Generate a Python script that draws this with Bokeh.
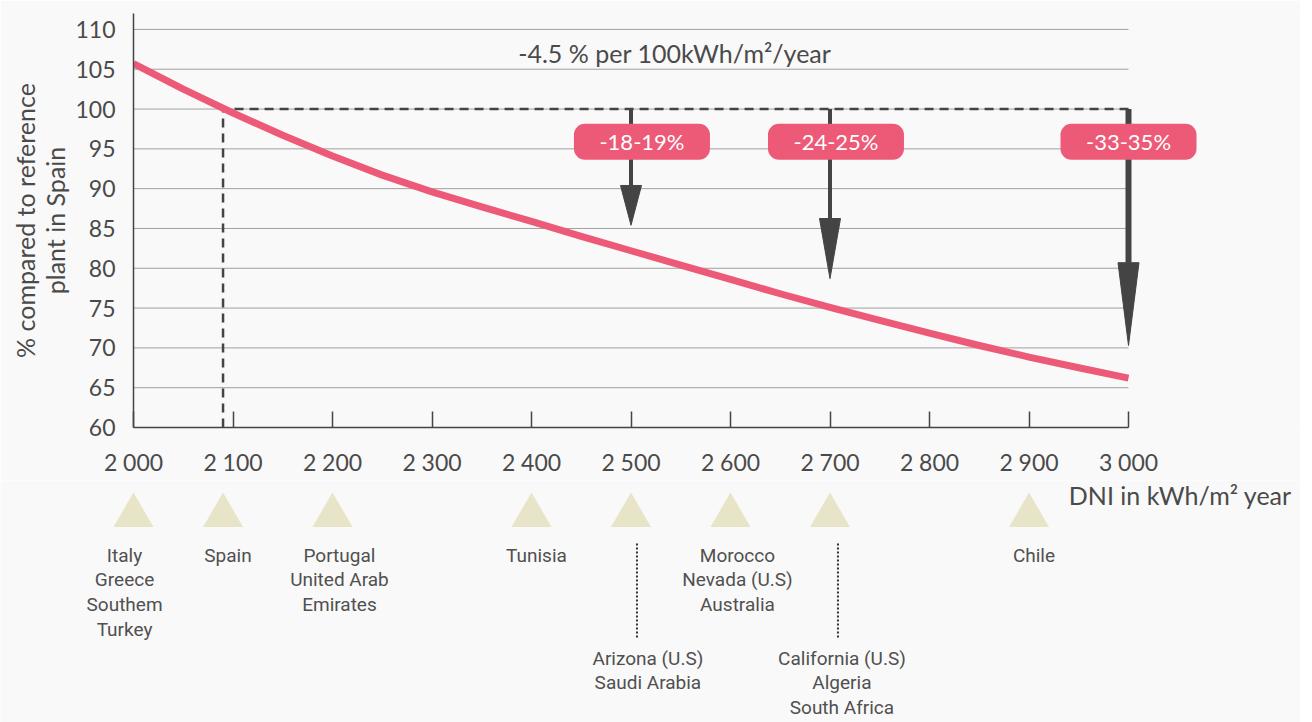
from bokeh.plotting import figure
from bokeh.models import Range1d, FixedTicker, ColumnDataSource
from bokeh.layouts import column
from bokeh.embed import file_html
from bokeh.resources import INLINE
from bokeh.core.properties import value

# ---------------- data ----------------
dni = [2000, 2050, 2100, 2150, 2200, 2250, 2300, 2350, 2400, 2450, 2500,
       2550, 2600, 2650, 2700, 2750, 2800, 2850, 2900, 2950, 3000]
pct = [105.7, 102.5, 99.5, 96.7, 94.1, 91.7, 89.6, 87.7, 85.9, 84.0, 82.2,
       80.4, 78.6, 76.8, 75.1, 73.45, 71.85, 70.3, 68.85, 67.5, 66.2]

x_ticks = [2000, 2100, 2200, 2300, 2400, 2500, 2600, 2700, 2800, 2900, 3000]
x_tick_labels = ["2 000", "2 100", "2 200", "2 300", "2 400", "2 500",
                 "2 600", "2 700", "2 800", "2 900", "3 000"]
y_ticks = [60, 65, 70, 75, 80, 85, 90, 95, 100, 105, 110]

spain_dni = 2090
ref_pct = 100

arrow_dni = [2500, 2700, 3000]
arrow_head_base = [90.4, 86.25, 80.7]
arrow_tip = [85.4, 78.7, 70.3]
arrow_labels = ["-18-19%", "-24-25%", "-33-35%"]

title_text = "-4.5 % per 100kWh/m\u00b2/year"
x_label = "DNI in kWh/m\u00b2 year"
y_label = "% compared to reference\nplant in Spain"

country_dni = [2000, 2090, 2200, 2400, 2500, 2600, 2700, 2900]
country_labels = ["Italy\nGreece\nSouthem\nTurkey", "Spain",
                  "Portugal\nUnited Arab\nEmirates", "Tunisia",
                  "Arizona (U.S)\nSaudi Arabia",
                  "Morocco\nNevada (U.S)\nAustralia",
                  "California (U.S)\nAlgeria\nSouth Africa", "Chile"]

# ---------------- styles / layout ----------------
PINK = "#EC5A78"
DARK = "#444444"
TEXT = "#4a4a4a"
BG = "#f9f9f9"
TRI = "#E8E4C8"
FONT = "Lato"
COND = "Roboto"

W = 1300
LEFT = 133
px_per_unit = 0.995
X_END = 2000 + (W - LEFT) / px_per_unit
x_range = Range1d(2000, X_END)

# ---------------- main chart ----------------
p = figure(width=W, height=480, x_range=x_range, y_range=Range1d(60, 112),
           output_backend="svg", toolbar_location=None,
           min_border_left=LEFT, min_border_right=0, min_border_top=13,
           min_border_bottom=53)
p.frame_align = False
p.background_fill_color = BG
p.border_fill_color = BG
p.outline_line_color = None
p.xgrid.visible = False
p.ygrid.visible = False

# grid lines limited to the data range
p.segment(x0=[x_ticks[0]] * (len(y_ticks) - 1), x1=[x_ticks[-1]] * (len(y_ticks) - 1),
          y0=y_ticks[1:], y1=y_ticks[1:], line_color="#a0a0a0", line_width=1)

# axes
xa = p.xaxis[0]
xa.ticker = FixedTicker(ticks=x_ticks)
xa.major_label_overrides = {t: l for t, l in zip(x_ticks, x_tick_labels)}
xa.bounds = (x_ticks[0], x_ticks[-1])
xa.major_tick_in = 16
xa.major_tick_out = 0
xa.minor_tick_line_color = None
xa.major_tick_line_color = DARK
xa.major_tick_line_width = 1.5
xa.axis_line_color = DARK
xa.axis_line_width = 1.5
xa.major_label_standoff = 20
xa.major_label_text_font = FONT
xa.major_label_text_font_size = "23px"
xa.major_label_text_color = TEXT

ya = p.yaxis[0]
ya.ticker = FixedTicker(ticks=y_ticks)
ya.major_tick_in = 0
ya.major_tick_out = 0
ya.minor_tick_line_color = None
ya.axis_line_color = DARK
ya.axis_line_width = 1.5
ya.major_label_standoff = 18
ya.major_label_text_font = FONT
ya.major_label_text_font_size = "23px"
ya.major_label_text_color = TEXT
ya.axis_label = y_label
ya.axis_label_standoff = 2
ya.axis_label_text_font = FONT
ya.axis_label_text_font_size = "25px"
ya.axis_label_text_font_style = "normal"
ya.axis_label_text_color = TEXT
ya.axis_label_text_line_height = 1.0

# dashed reference lines
p.line(x=[spain_dni, spain_dni, x_ticks[-1]], y=[y_ticks[0], ref_pct, ref_pct],
       line_color=DARK, line_width=2.5, line_dash="9 6")

# curve
p.line(x=dni, y=pct, line_color=PINK, line_width=7, line_join="round")

# arrows
shaft_w = [4, 4, 6]
for xv, hb, sw in zip(arrow_dni, arrow_head_base, shaft_w):
    p.segment(x0=[xv], x1=[xv], y0=[ref_pct], y1=[hb], line_color=DARK, line_width=sw)
hw = 10.5 / px_per_unit
p.patches(xs=[[xv - hw, xv + hw, xv] for xv in arrow_dni],
          ys=[[hb, hb, tp] for hb, tp in zip(arrow_head_base, arrow_tip)],
          fill_color=DARK, line_color=DARK, line_width=1)

# badges
badge_dx = [11, 6, 0]
badge_y = 95.9
bsrc = ColumnDataSource(dict(x=[xv + d for xv, d in zip(arrow_dni, badge_dx)],
                             y=[badge_y] * len(arrow_dni), t=arrow_labels))
p.rect(x="x", y="y", width=136, height=36, width_units="screen", height_units="screen",
       fill_color=PINK, line_color=None, border_radius=11, source=bsrc)
p.text(x="x", y="y", text="t", source=bsrc, text_color="white",
       text_font=value(FONT), text_font_size="22px",
       text_align="center", text_baseline="middle")

# title
p.text(x=[2544], y=[107.0], text=[title_text], text_color=TEXT,
       text_font=value(FONT), text_font_size="25px",
       text_align="center", text_baseline="middle")

# ---------------- country strip ----------------
q_range = Range1d(2000 - LEFT / px_per_unit, X_END)
q = figure(width=W, height=242, x_range=q_range, y_range=Range1d(start=722, end=480),
           output_backend="svg", toolbar_location=None,
           x_axis_location=None, y_axis_location=None,
           min_border_left=0, min_border_right=0, min_border_top=0,
           min_border_bottom=0)
q.frame_align = False
q.background_fill_color = BG
q.border_fill_color = BG
q.outline_line_color = None
q.grid.visible = False

q.scatter(x=country_dni, y=[515] * len(country_dni), marker="triangle", size=40,
          fill_color=TRI, line_color=None)

label_dx = [-9, 5, 7, 5, 17, 7, 12, 5]
label_top = [543, 543, 543, 543, 646, 543, 646, 543]
q.text(x=[c + d for c, d in zip(country_dni, label_dx)], y=label_top, text=country_labels,
       text_color="#505050", text_font=value(COND), text_font_size="19px",
       text_align="center", text_baseline="top", text_line_height=1.08)

# dotted connectors
for xd in [2506, 2708]:
    q.line(x=[xd, xd], y=[543, 639], line_color="#333333", line_width=2, line_dash="2 2")

q.text(x=[2940], y=[494], text=[x_label], text_color=TEXT,
       text_font=value(FONT), text_font_size="25px",
       text_align="left", text_baseline="middle")

layout = column(p, q, spacing=0)
open("out.html", "w").write(file_html(layout, INLINE))
